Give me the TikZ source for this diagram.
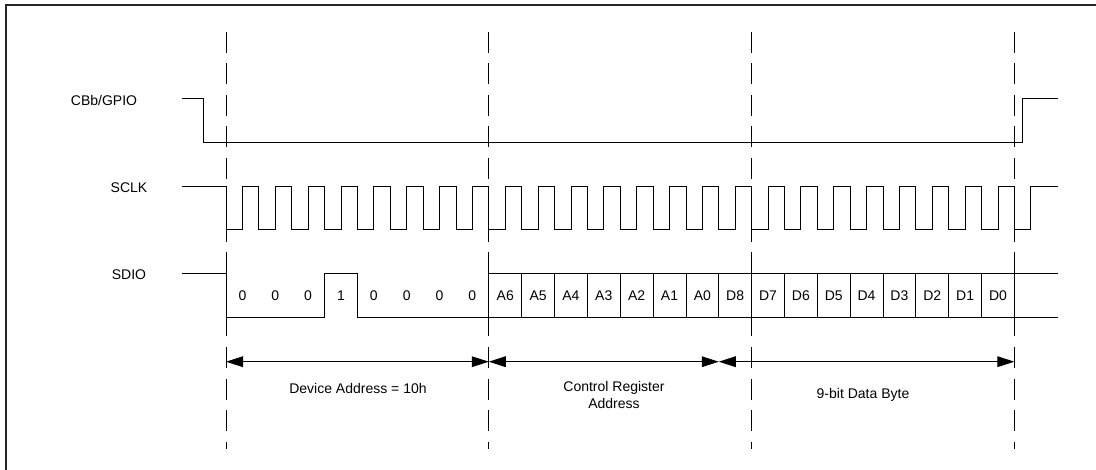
\documentclass[tikz,border=0pt]{standalone}
\usepackage{fontspec}
\setmainfont{Liberation Sans}
\usepackage{tikz}
\usetikzlibrary{arrows.meta}

\begin{document}
\begin{tikzpicture}[x=0.75pt, y=-0.75pt,
    every node/.style={font=\fontsize{10.5}{12.5}\selectfont, inner sep=0pt},
    wave/.style={line width=0.6pt, line join=miter},
    marker/.style={dashed, line width=0.75pt, dash pattern=on 15.75pt off 7.875pt},
    span/.style={line width=0.75pt, {Triangle[length=12.75pt, width=8pt]}-{Triangle[length=12.75pt, width=8pt]}}]
	\useasboundingbox (0,0) rectangle (1096,470);
	% Frame
	\draw[line width=1.5pt, black!85] (6,470) -- (6,5) -- (1096,5);
	% Signal names
	\node (cb) at (104,100) {CBb/GPIO};
	\node (sclk) at (129,188) {SCLK};
	\node (sdio) at (129,275) {SDIO};
	% Markers
	\foreach \k in {0,8,16,24}
		\draw[marker] ({226+\k*32.85},32) -- ({226+\k*32.85},449);
	% CBb/GPIO
	\draw[wave] (182,98.3) -- (203.3,98.3) -- (203.3,142.3) -- (1022.7,142.3) -- (1022.7,98.3) -- (1058,98.3);
	% SCLK
	\draw[wave] (182,186.3) -- (226,186.3) -- (226,229.3)
		\foreach \k in {0,...,23} { -- ({226+(\k+0.5)*32.85},229.3) -- ({226+(\k+0.5)*32.85},186.3)
			-- ({226+(\k+1)*32.85},186.3) -- ({226+(\k+1)*32.85},229.3) }
		-- ({226+24.5*32.85},229.3) -- ({226+24.5*32.85},186.3) -- (1058,186.3);
	% SDIO
	\draw[wave] (182,273.5) -- (226,273.5) -- (226,317.5) -- ({226+3*32.85},317.5) -- ({226+3*32.85},273.5)
		-- ({226+4*32.85},273.5) -- ({226+4*32.85},317.5) -- (1058,317.5);
	\draw[wave] ({226+8*32.85},317.5) -- ({226+8*32.85},273.5) -- (1058,273.5);
	\foreach \k in {9,...,24}
		\draw[wave] ({226+\k*32.85},273.5) -- ({226+\k*32.85},317.5);
	\foreach \t [count=\i from 0] in {0,0,0,1,0,0,0,0}
		\node (bit\i) at ({226+(\i+0.5)*32.85},295.5) {\t};
	\foreach \t [count=\i from 8] in {A6,A5,A4,A3,A2,A1,A0,D8,D7,D6,D5,D4,D3,D2,D1,D0}
		\node (bit\i) at ({226+(\i+0.5)*32.85},295.5) {\t};
	% Spans
	\foreach \k in {0,8,15,24}
		\coordinate (s\k) at ({226+\k*32.85},361.7);
	\draw[span] (s0) -- (s8);
	\draw[span] (s8) -- (s15);
	\draw[span] (s15) -- (s24);
	\node (dev) at (358,388) {Device Address = 10h};
	\node[align=center] (reg) at (614,395) {Control Register\\Address};
	\node (data) at (863,395) {9-bit Data Byte};
\end{tikzpicture}
\end{document}
